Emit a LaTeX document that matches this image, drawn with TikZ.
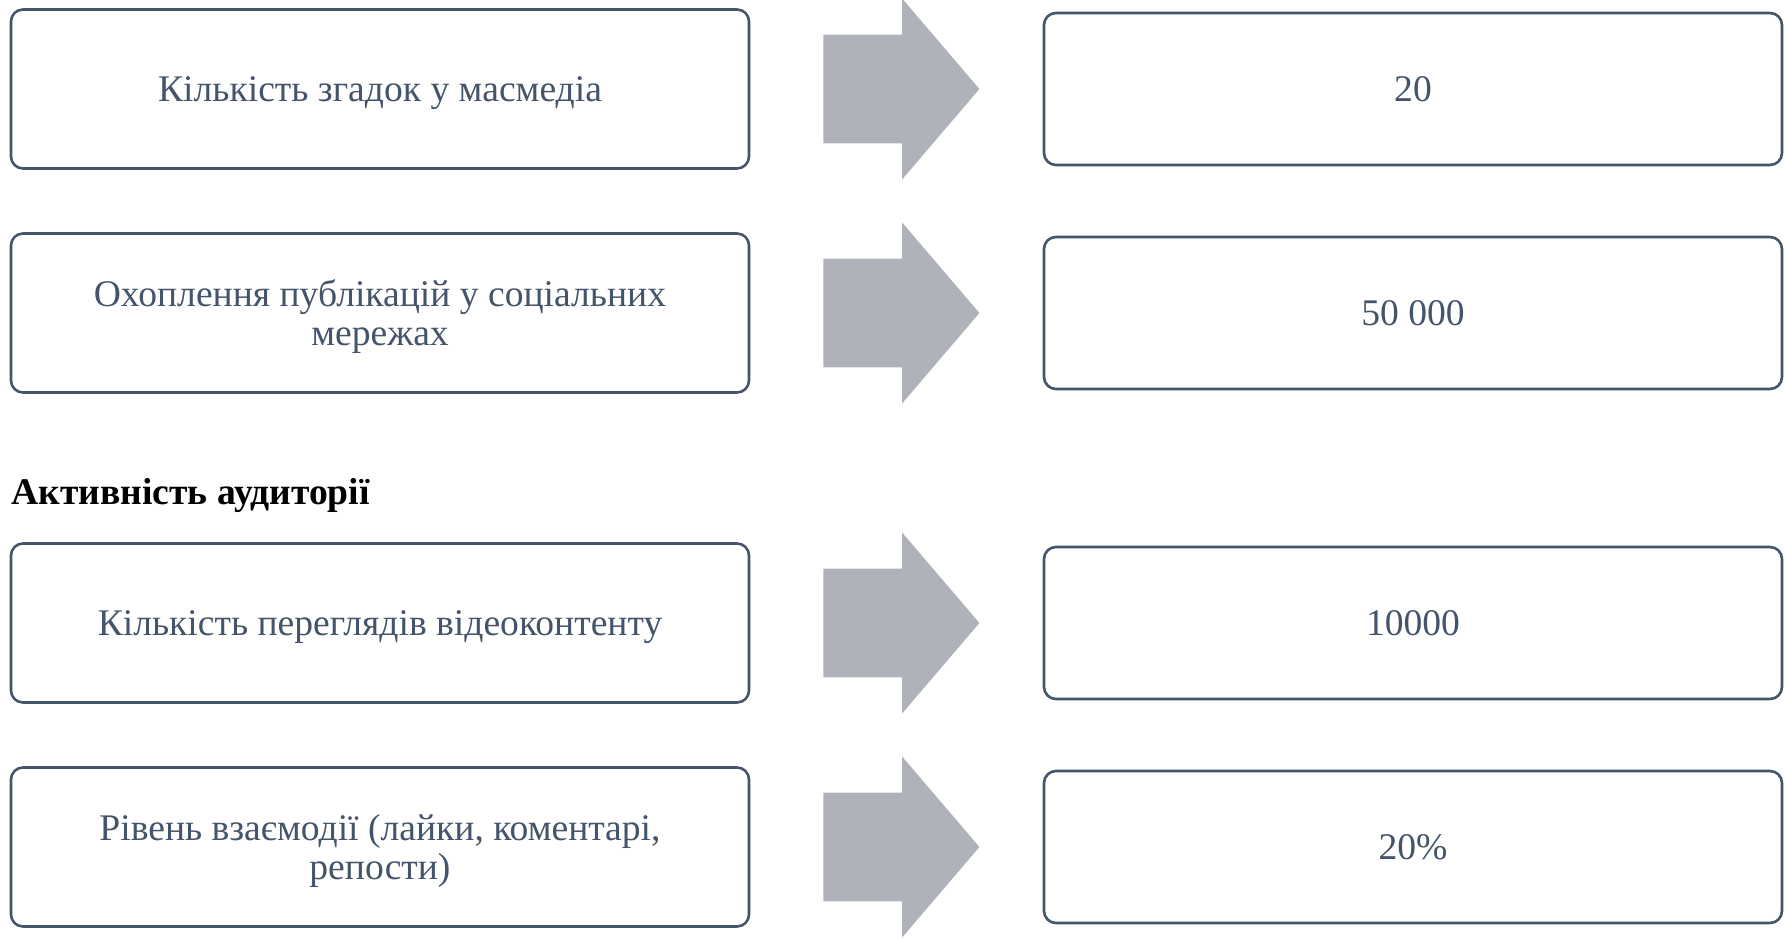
\documentclass[tikz,border=0pt]{standalone}
\usepackage{fontspec}
\setmainfont{Liberation Serif}
\usetikzlibrary{shapes.arrows}
\definecolor{slate}{HTML}{44546A}
\definecolor{arrowgray}{HTML}{AFB2B8}

\begin{document}
\begin{tikzpicture}[x=0.5pt,y=-0.5pt,
% common options for the boxes:
box/.style = {draw=slate, line width=1.3pt, rounded corners=6pt, text=slate,
            align=center, minimum width=369pt, inner sep=0,
            text height=15pt, text depth=2pt,
            font=\fontsize{18.8}{19.5}\selectfont},
% boxes with two lines of text:
twoline/.style = {text height=34.5pt},
% common options for the block arrows:
bigarrow/.style = {single arrow, fill=arrowgray, anchor=tail,
            inner xsep=0, inner ysep=27pt, text height=0pt, text depth=0pt,
            minimum height=78pt, minimum width=90pt,
            single arrow head extend=18pt, single arrow tip angle=99}]
\useasboundingbox (0,0) rectangle (1785,940);
\node[box,minimum height=79.5pt] (A1) at (380,89) {Кількість згадок у масмедіа};
\node[box,twoline,minimum height=79.5pt] (A2) at (380,313) {Охоплення публікацій у соціальних\\мережах};
\node[box,minimum height=79.5pt] (A3) at (380,623) {Кількість переглядів відеоконтенту};
\node[box,twoline,minimum height=79.5pt] (A4) at (380,847) {Рівень взаємодії (лайки, коментарі,\\репости)};
\node[box,minimum height=76pt] (B1) at (1413,89) {20};
\node[box,minimum height=76pt] (B2) at (1413,313) {50 000};
\node[box,minimum height=76pt] (B3) at (1413,623) {10000};
\node[box,minimum height=76pt] (B4) at (1413,847) {20\%};
\node[bigarrow] (C1) at (823,89) {};
\node[bigarrow] (C2) at (823,313) {};
\node[bigarrow] (C3) at (823,623) {};
\node[bigarrow] (C4) at (823,847) {};
\node[anchor=west,inner sep=0,font=\bfseries\fontsize{18.8}{19.5}\selectfont] (T0) at (11,495.5) {Активність аудиторії};
\end{tikzpicture}
\end{document}
